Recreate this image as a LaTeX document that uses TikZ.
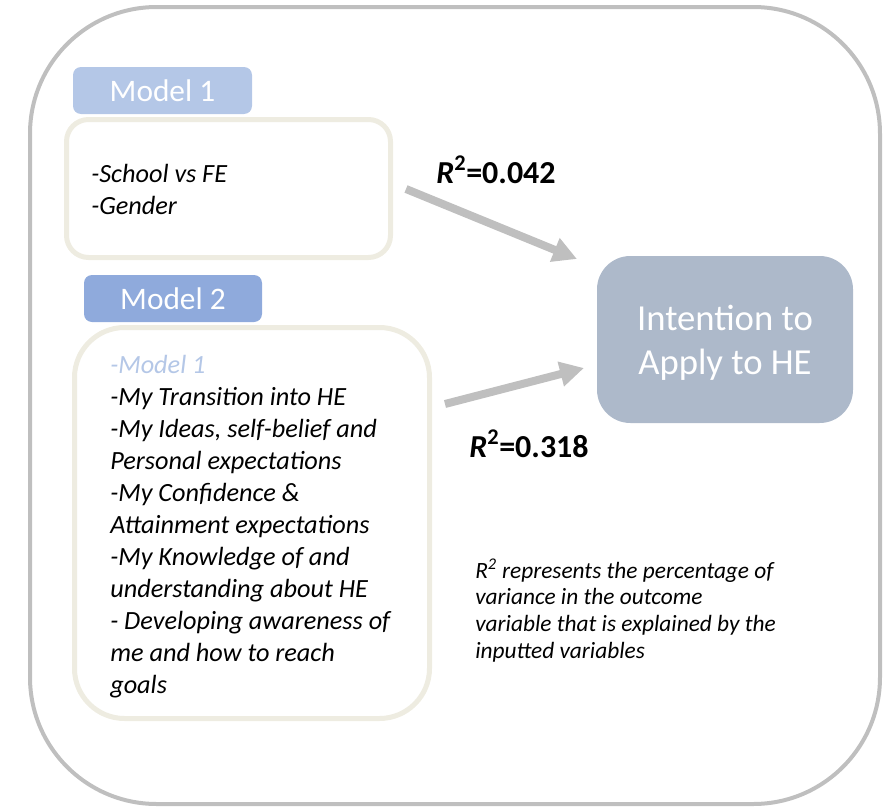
\documentclass[tikz,border=0pt]{standalone}
\usepackage{fontspec}
\setmainfont{Carlito}
\usetikzlibrary{arrows.meta}
\definecolor{framec}{HTML}{BFBFBF}
\definecolor{beige}{HTML}{EEECE1}
\definecolor{tabone}{HTML}{B4C7E7}
\definecolor{tabtwo}{HTML}{8FAADC}
\definecolor{goalc}{HTML}{ADB9CA}
\definecolor{arrowc}{HTML}{BFBFBF}
\begin{document}
\begin{tikzpicture}[x=0.75pt,y=-0.75pt,
  tabbox/.style={rounded corners=6pt, text=white, inner sep=0pt,
    font=\fontsize{23.5}{28}\selectfont},
  listbox/.style={draw=beige, line width=3.75pt, fill=white, inner sep=0pt},
  listtext/.style={anchor=north west, inner sep=0pt, align=left,
    font=\fontsize{19.7}{24}\selectfont\itshape},
  goalbox/.style={fill=goalc, rounded corners=25pt, text=white, align=center,
    inner sep=0pt, font=\fontsize{27.5}{33}\selectfont},
  goaltext/.style={text=white, align=center, inner sep=0pt,
    font=\fontsize{27.5}{33}\selectfont},
  rlabel/.style={anchor=base west, inner sep=0pt,
    font=\fontsize{24}{28}\selectfont\bfseries},
  notetext/.style={anchor=north west, inner sep=0pt, align=left,
    font=\fontsize{17.5}{20}\selectfont\itshape},
  thickarrow/.style={color=arrowc, line width=6pt,
    -{Triangle[length=18pt,width=18pt]}}]
\useasboundingbox (0,0) rectangle (894,807);
% outer frame
\draw[framec, line width=3pt, rounded corners=95pt] (30,7) rectangle (880,804);
% model 1
\node[tabbox, fill=tabone, minimum width=134.25pt, minimum height=35.25pt] (tab1) at (162.5,90.5) {Model 1};
\node[listbox, rounded corners=16.5pt, minimum width=243pt, minimum height=103.5pt] (box1) at (228.5,188.5) {};
\node[listtext] (txt1) at (91,164) {-School vs FE\\-Gender};
% model 2
\node[tabbox, fill=tabtwo, minimum width=133.5pt, minimum height=35.25pt] (tab2) at (173,298.5) {Model 2};
\node[listbox, rounded corners=37.5pt, minimum width=266.25pt, minimum height=293.25pt] (box2) at (252,523) {};
\node[listtext] (txt2) at (110,355) {\textcolor{tabone}{-Model 1}\\
-My Transition into HE\\
-My Ideas, self-belief and\\
Personal expectations\\
-My Confidence \&\\
Attainment expectations\\
-My Knowledge of and\\
understanding about HE\\
- Developing awareness of\\
me and how to reach\\
goals};
% outcome
\node[goalbox, minimum width=192pt, minimum height=125.25pt] (goal) at (725,339.5) {};
\node[goaltext] (goaltxt) at (725,342.5) {Intention to\\Apply to HE};
% arrows
\coordinate (a1s) at (406,189);
\coordinate (a1e) at (577,259);
\coordinate (a2s) at (445,404);
\coordinate (a2e) at (584,368);
\draw[thickarrow] (a1s) -- (a1e);
\draw[thickarrow] (a2s) -- (a2e);
% labels
\node[rlabel] (r1) at (436,183) {\textit{R}\textsuperscript{2}=0.042};
\node[rlabel] (r2) at (469,457) {\textit{R}\textsuperscript{2}=0.318};
\node[notetext] (note) at (475,559) {R\textsuperscript{2} represents the percentage of\\
variance in the outcome\\
variable that is explained by the\\
inputted variables};
\end{tikzpicture}
\end{document}
